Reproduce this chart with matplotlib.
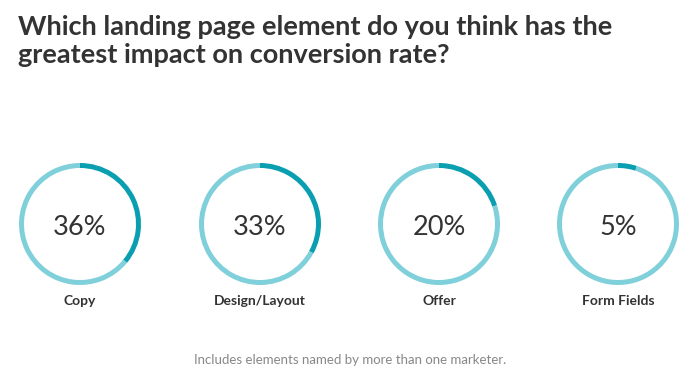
import matplotlib
matplotlib.use("Agg")
import matplotlib.pyplot as plt

categories = ["Copy", "Design/Layout", "Offer", "Form Fields"]
values = [36, 33, 20, 5]

title = "Which landing page element do you think has the\ngreatest impact on conversion rate?"
footnote = "Includes elements named by more than one marketer."

DARK = "#0a9fb0"
LIGHT = "#7fd0da"
FONT = ["Lato", "DejaVu Sans"]

W, H = 700, 382
fig = plt.figure(figsize=(W / 100, H / 100), dpi=100)
fig.patch.set_facecolor("white")

centers_x = [80, 260, 439, 618]
cy = 224
r = 61

for cx, cat, v in zip(centers_x, categories, values):
    ax = fig.add_axes([(cx - r) / W, (H - cy - r) / H, 2 * r / W, 2 * r / H])
    ax.pie([v, 100 - v], colors=[DARK, LIGHT], startangle=90, counterclock=False,
           radius=1.0, wedgeprops=dict(width=5 / r, linewidth=0))
    ax.set_xlim(-1, 1)
    ax.set_ylim(-1, 1)
    ax.set_aspect("equal")
    ax.axis("off")
    ax.text(0, -0.05, f"{v}%", ha="center", va="center", fontsize=19.5,
            color="#333333", family=FONT)
    fig.text(cx / W, 1 - 301 / H, cat, ha="center", va="center", fontsize=10,
             color="#333333", family=FONT, fontweight="bold")

fig.text(18 / W, 1 - 15 / H, title, ha="left", va="top", fontsize=19.5,
         color="#333333", family=FONT, fontweight="bold", linespacing=1.2)
fig.text(350 / W, 1 - 360 / H, footnote, ha="center", va="center", fontsize=9.5,
         color="#888888", family=FONT)

fig.savefig("out.png", dpi=100, facecolor="white")
